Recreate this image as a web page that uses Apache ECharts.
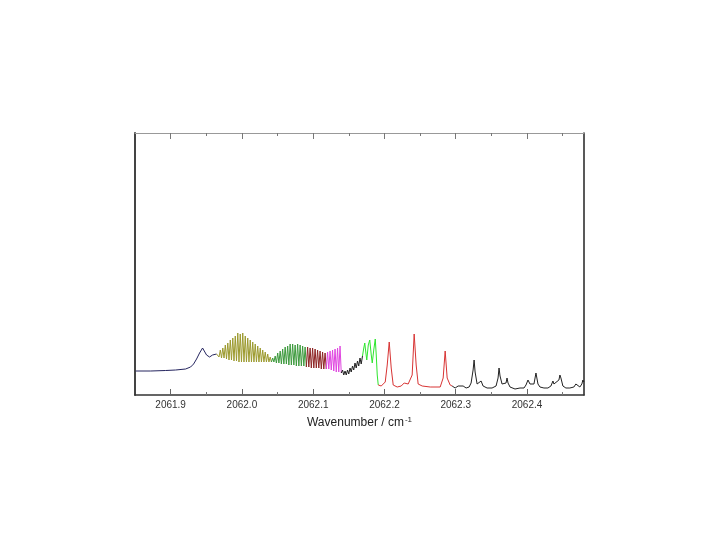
<!DOCTYPE html>
<html>
<head>
<meta charset="utf-8">
<script src="https://cdn.jsdelivr.net/npm/echarts@6/dist/echarts.min.js"></script>
<style>
  html, body { margin: 0; padding: 0; background: #fff; }
  #chart { width: 720px; height: 540px; }
</style>
</head>
<body>
<div id="chart"></div>
<script>
// wavenumber (cm-1), intensity (arb. units)
const navySeg = [
  [2061.8510, 24], [2061.8720, 24], [2061.8930, 24.5], [2061.9070, 25], [2061.9210, 26],
  [2061.9280, 28], [2061.9322, 31], [2061.9364, 36], [2061.9406, 42], [2061.9448, 47],
  [2061.9476, 45], [2061.9504, 40], [2061.9546, 38], [2061.9588, 40], [2061.9616, 39],
  [2061.9644, 41]
]
const oliveSeg = [
  [2061.9644, 41], [2061.9662, 43], [2061.9679, 38], [2061.9697, 45], [2061.9714, 37],
  [2061.9732, 47], [2061.9749, 37], [2061.9767, 50], [2061.9784, 36], [2061.9802, 52],
  [2061.9819, 35], [2061.9837, 55], [2061.9854, 35], [2061.9872, 57], [2061.9889, 34],
  [2061.9907, 59], [2061.9924, 34], [2061.9942, 62], [2061.9959, 33], [2061.9977, 61],
  [2061.9994, 33], [2062.0012, 62], [2062.0029, 33], [2062.0047, 59], [2062.0064, 33],
  [2062.0082, 57], [2062.0099, 33], [2062.0117, 55], [2062.0134, 33], [2062.0152, 53],
  [2062.0169, 33], [2062.0187, 51], [2062.0204, 33], [2062.0222, 49], [2062.0239, 33],
  [2062.0257, 47], [2062.0274, 33], [2062.0292, 45], [2062.0309, 33], [2062.0327, 43],
  [2062.0344, 33], [2062.0362, 41], [2062.0379, 33], [2062.0397, 38], [2062.0414, 33]
]
const greenSeg = [
  [2062.0414, 33], [2062.0432, 37], [2062.0449, 33], [2062.0467, 39], [2062.0484, 32],
  [2062.0502, 42], [2062.0519, 32], [2062.0537, 44], [2062.0554, 31], [2062.0572, 46],
  [2062.0589, 31], [2062.0607, 48], [2062.0624, 31], [2062.0642, 49], [2062.0659, 30],
  [2062.0677, 51], [2062.0694, 30], [2062.0712, 51], [2062.0729, 30], [2062.0747, 50],
  [2062.0764, 29], [2062.0782, 51], [2062.0799, 29], [2062.0817, 50], [2062.0834, 29],
  [2062.0852, 49], [2062.0869, 29], [2062.0887, 48], [2062.0904, 28]
]
const maroonSeg = [
  [2062.0904, 28], [2062.0922, 48], [2062.0939, 28], [2062.0957, 47], [2062.0974, 27],
  [2062.0992, 47], [2062.1009, 27], [2062.1027, 46], [2062.1044, 27], [2062.1062, 45],
  [2062.1079, 27], [2062.1097, 44], [2062.1114, 26], [2062.1132, 43], [2062.1149, 26],
  [2062.1167, 42], [2062.1184, 26]
]
const magentaSeg = [
  [2062.1184, 26], [2062.1202, 43], [2062.1219, 26], [2062.1237, 44], [2062.1254, 25],
  [2062.1272, 45], [2062.1289, 24], [2062.1307, 46], [2062.1324, 23], [2062.1342, 47],
  [2062.1359, 23], [2062.1377, 49], [2062.1394, 22]
]
const blackMidSeg = [
  [2062.1394, 22], [2062.1412, 25], [2062.1429, 20], [2062.1447, 24], [2062.1464, 20],
  [2062.1482, 25], [2062.1499, 21], [2062.1517, 27], [2062.1534, 23], [2062.1552, 29],
  [2062.1569, 25], [2062.1587, 32], [2062.1604, 27], [2062.1622, 34], [2062.1639, 29],
  [2062.1657, 37], [2062.1674, 31], [2062.1692, 39]
]
const limeSeg = [
  [2062.1692, 39], [2062.1710, 47], [2062.1724, 52], [2062.1738, 43], [2062.1752, 35],
  [2062.1773, 50], [2062.1794, 55], [2062.1815, 40], [2062.1829, 32], [2062.1850, 45],
  [2062.1871, 56], [2062.1885, 40], [2062.1899, 20], [2062.1913, 10]
]
const redSeg = [
  [2062.1913, 10], [2062.1955, 9], [2062.2011, 13], [2062.2039, 30], [2062.2067, 53],
  [2062.2095, 27], [2062.2123, 10], [2062.2179, 8], [2062.2235, 9], [2062.2277, 12],
  [2062.2305, 14], [2062.2333, 11], [2062.2361, 9], [2062.2389, 20], [2062.2417, 61],
  [2062.2445, 30], [2062.2473, 11], [2062.2530, 9], [2062.2642, 8], [2062.2782, 8],
  [2062.2824, 17], [2062.2852, 44], [2062.2880, 17], [2062.2922, 10], [2062.2950, 9]
]
const blackEndSeg = [
  [2062.2950, 9], [2062.2992, 7], [2062.3034, 9], [2062.3062, 7], [2062.3104, 9],
  [2062.3146, 7], [2062.3188, 8], [2062.3216, 12], [2062.3244, 25], [2062.3258, 35],
  [2062.3272, 23], [2062.3300, 11], [2062.3328, 10], [2062.3356, 14], [2062.3384, 9],
  [2062.3440, 7], [2062.3510, 7], [2062.3566, 9], [2062.3594, 17], [2062.3608, 27],
  [2062.3622, 19], [2062.3650, 11], [2062.3678, 9], [2062.3706, 12], [2062.3720, 17],
  [2062.3734, 12], [2062.3762, 8], [2062.3832, 6], [2062.3902, 7], [2062.3958, 7],
  [2062.3986, 10], [2062.4014, 15], [2062.4028, 16], [2062.4042, 11], [2062.4070, 9],
  [2062.4098, 11], [2062.4126, 22], [2062.4140, 20], [2062.4154, 11], [2062.4182, 8],
  [2062.4238, 7], [2062.4294, 7], [2062.4336, 9], [2062.4364, 14], [2062.4378, 11],
  [2062.4406, 9], [2062.4448, 15], [2062.4462, 20], [2062.4476, 17], [2062.4504, 9],
  [2062.4546, 7], [2062.4602, 7], [2062.4658, 8], [2062.4686, 11], [2062.4700, 13],
  [2062.4714, 10], [2062.4742, 8], [2062.4770, 11], [2062.4784, 15], [2062.4799, 13]
]
const majorTicks = [2061.9, 2062.0, 2062.1, 2062.2, 2062.3, 2062.4]
const minorTicks = [2061.95, 2062.05, 2062.15, 2062.25, 2062.35, 2062.45]

const xMin = 2061.85
const xMax = 2062.48

var chart = echarts.init(document.getElementById('chart'))

function seg(data, color) {
  return {
    type: 'line',
    data: data,
    xAxisIndex: 0,
    yAxisIndex: 0,
    showSymbol: false,
    symbol: 'none',
    lineStyle: { color: color, width: 1 },
    itemStyle: { color: color },
    z: 3
  }
}

function tickAxis(position, values, len, lineColor, lineWidth) {
  return {
    type: 'value',
    position: position,
    min: xMin,
    max: xMax,
    axisLine: { show: lineColor != null, onZero: false, lineStyle: { color: lineColor || '#000', width: lineWidth || 1 } },
    axisTick: { show: true, inside: true, length: len, customValues: values, lineStyle: { color: '#777', width: 1 } },
    axisLabel: { show: false, customValues: values },
    splitLine: { show: false }
  }
}

chart.setOption({
  animation: false,
  backgroundColor: '#fff',
  grid: { left: 135, right: 136, top: 133, bottom: 145, containLabel: false },
  xAxis: [{
    type: 'value',
    position: 'bottom',
    min: xMin,
    max: xMax,
    name: '{t|Wavenumber / cm}{s|-1}',
    nameLocation: 'middle',
    nameGap: 21,
    nameTextStyle: {
      rich: {
        t: { fontFamily: 'Liberation Sans', fontSize: 12, color: '#222' },
        s: { fontFamily: 'Liberation Sans', fontSize: 8, color: '#222', verticalAlign: 'top', padding: [0, 0, 6, 1] }
      }
    },
    axisLine: { show: true, onZero: false, lineStyle: { color: '#333', width: 1.5 } },
    axisTick: { show: true, inside: true, length: 6, customValues: majorTicks, lineStyle: { color: '#666', width: 1 } },
    axisLabel: {
      customValues: majorTicks,
      margin: 5,
      fontFamily: 'Liberation Sans',
      fontSize: 10,
      color: '#333',
      formatter: function (v) { return v.toFixed(1) }
    },
    splitLine: { show: false }
  },
    tickAxis('bottom', minorTicks, 3, null),
    tickAxis('top', majorTicks, 6, '#999', 1),
    tickAxis('top', minorTicks, 3, null)
  ],
  yAxis: [{
    type: 'value',
    position: 'left',
    min: 0,
    max: 262,
    axisLine: { show: true, onZero: false, lineStyle: { color: '#444', width: 2 } },
    axisTick: { show: false },
    axisLabel: { show: false },
    splitLine: { show: false }
  }, {
    type: 'value',
    position: 'right',
    min: 0,
    max: 262,
    axisLine: { show: true, onZero: false, lineStyle: { color: '#222', width: 1.5 } },
    axisTick: { show: false },
    axisLabel: { show: false },
    splitLine: { show: false }
  }],
  series: [
    seg(navySeg, '#25255f'),
    seg(oliveSeg, '#9c9a2e'),
    seg(greenSeg, '#3d9a3d'),
    seg(maroonSeg, '#8e2424'),
    seg(magentaSeg, '#e045e0'),
    seg(blackMidSeg, '#222222'),
    seg(limeSeg, '#2ee62e'),
    seg(redSeg, '#d83434'),
    seg(blackEndSeg, '#222222')
  ]
})
</script>
</body>
</html>
